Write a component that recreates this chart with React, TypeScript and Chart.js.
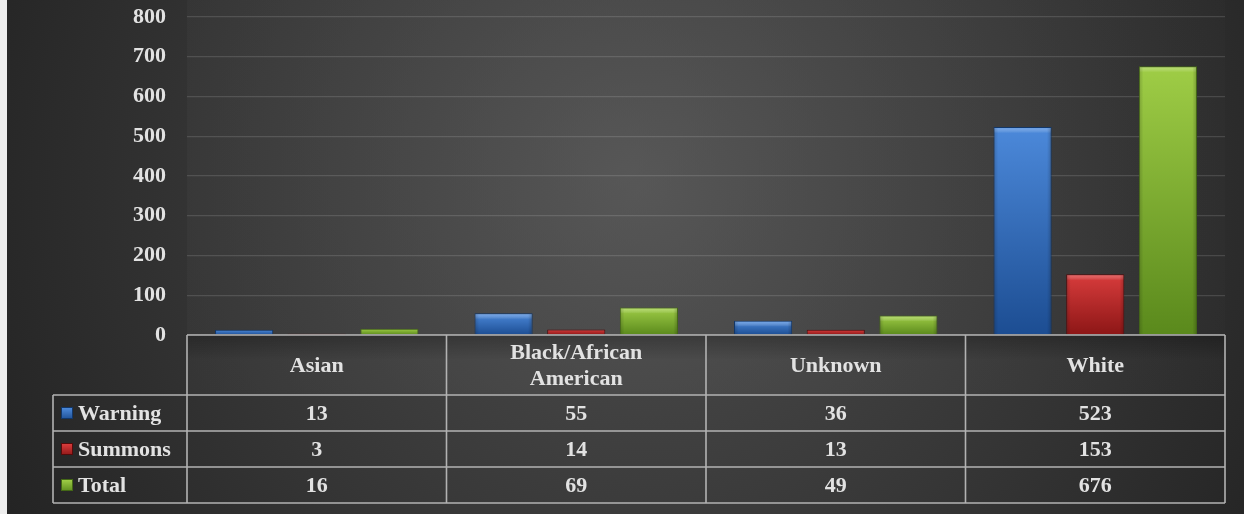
import React, { useEffect, useRef } from "react";
import { Chart, registerables } from "chart.js";

Chart.register(...registerables);

const categories = ["Asian", "Black/African American", "Unknown", "White"];
const headerLines = [["Asian"], ["Black/African", "American"], ["Unknown"], ["White"]];
const seriesNames = ["Warning", "Summons", "Total"];
const warning = [13, 55, 36, 523];
const summons = [3, 14, 13, 153];
const total = [16, 69, 49, 676];
const yMin = 0;
const yMax = 800;
const yStep = 100;

const FONT = '"Liberation Serif", "Times New Roman", serif';
const TEXT = "#e2e2e2";

const palette = [
  { top: "#4c89da", bottom: "#1c4d92", border: "#123769", hi: "rgba(140,185,245,0.55)" },
  { top: "#d83c3c", bottom: "#8c1616", border: "#560b0b", hi: "rgba(245,130,130,0.5)" },
  { top: "#9fcd46", bottom: "#5a891c", border: "#446816", hi: "rgba(200,235,140,0.5)" },
];

const W = 1237;
const H = 514;

const bgPlugin = {
  id: "bgPlugin",
  beforeDraw(chart: any) {
    const { ctx, chartArea: a } = chart;
    ctx.save();
    const g = ctx.createRadialGradient(640, 190, 0, 640, 190, 780);
    g.addColorStop(0, "#4e4e4e");
    g.addColorStop(0.55, "#353535");
    g.addColorStop(1, "#202020");
    ctx.fillStyle = g;
    ctx.fillRect(0, 0, W, H);
    const g2 = ctx.createRadialGradient(620, 170, 0, 620, 170, 720);
    g2.addColorStop(0, "rgba(95,95,95,0.55)");
    g2.addColorStop(1, "rgba(60,60,60,0.0)");
    ctx.fillStyle = g2;
    ctx.fillRect(a.left, 0, a.right - a.left, 395);
    ctx.restore();
  },
};

const bevelPlugin = {
  id: "bevelPlugin",
  afterDatasetsDraw(chart: any) {
    const { ctx } = chart;
    ctx.save();
    chart.data.datasets.forEach((ds: any, di: number) => {
      const meta = chart.getDatasetMeta(di);
      meta.data.forEach((bar: any) => {
        const { x, y, base, width } = bar.getProps(["x", "y", "base", "width"], true);
        const h = base - y;
        if (h < 6) return;
        const l = x - width / 2;
        const p = palette[di];
        const tg = ctx.createLinearGradient(0, y, 0, y + 6);
        tg.addColorStop(0, p.hi);
        tg.addColorStop(1, "rgba(255,255,255,0)");
        ctx.fillStyle = tg;
        ctx.fillRect(l + 1, y + 1, width - 2, 6);
        const sg = ctx.createLinearGradient(l, 0, l + width, 0);
        sg.addColorStop(0, "rgba(0,0,0,0.18)");
        sg.addColorStop(0.08, "rgba(0,0,0,0)");
        sg.addColorStop(0.92, "rgba(0,0,0,0)");
        sg.addColorStop(1, "rgba(0,0,0,0.22)");
        ctx.fillStyle = sg;
        ctx.fillRect(l + 1, y + 1, width - 2, h - 1);
      });
    });
    ctx.restore();
  },
};

const tablePlugin = {
  id: "tablePlugin",
  afterDraw(chart: any) {
    const { ctx, chartArea: a } = chart;
    const xs = chart.scales.x;
    const n = categories.length;
    const colW = (a.right - a.left) / n;
    const headTop = a.bottom;
    const rowTops = [395, 431, 467];
    const tableBottom = 503;
    const labelLeft = 46;
    ctx.save();

    const sh = ctx.createLinearGradient(0, headTop, 0, headTop + 25);
    sh.addColorStop(0, "rgba(0,0,0,0.25)");
    sh.addColorStop(1, "rgba(0,0,0,0)");
    ctx.fillStyle = sh;
    ctx.fillRect(a.left, headTop, a.right - a.left, 25);

    ctx.strokeStyle = "#b2b2b2";
    ctx.lineWidth = 1.6;
    ctx.beginPath();
    ctx.moveTo(a.left, headTop);
    ctx.lineTo(a.right, headTop);
    [...rowTops, tableBottom].forEach((yy) => {
      ctx.moveTo(labelLeft, yy);
      ctx.lineTo(a.right, yy);
    });
    ctx.moveTo(labelLeft, rowTops[0]);
    ctx.lineTo(labelLeft, tableBottom);
    for (let i = 0; i <= n; i++) {
      const bx = a.left + i * colW;
      ctx.moveTo(bx, headTop);
      ctx.lineTo(bx, tableBottom);
    }
    ctx.stroke();

    ctx.fillStyle = TEXT;
    ctx.font = `bold 22px ${FONT}`;
    ctx.textAlign = "center";
    ctx.textBaseline = "middle";
    const headMid = (headTop + rowTops[0]) / 2 + 1;
    headerLines.forEach((lines, i) => {
      const cx = xs.getPixelForValue(i);
      const lh = 26;
      const start = headMid - ((lines.length - 1) * lh) / 2;
      lines.forEach((t, j) => ctx.fillText(t, cx, start + j * lh));
    });

    const series = [warning, summons, total];
    series.forEach((vals, r) => {
      const top = rowTops[r];
      const bottom = r < rowTops.length - 1 ? rowTops[r + 1] : tableBottom;
      const mid = (top + bottom) / 2 + 1;
      ctx.textAlign = "center";
      ctx.fillStyle = TEXT;
      vals.forEach((v, i) => ctx.fillText(String(v), xs.getPixelForValue(i), mid));
      const p = palette[r];
      const kg = ctx.createLinearGradient(0, mid - 6, 0, mid + 6);
      kg.addColorStop(0, p.top);
      kg.addColorStop(1, p.bottom);
      ctx.fillStyle = kg;
      ctx.fillRect(54, mid - 7, 12, 12);
      ctx.strokeStyle = p.border;
      ctx.lineWidth = 1;
      ctx.strokeRect(54.5, mid - 6.5, 11, 11);
      ctx.fillStyle = TEXT;
      ctx.textAlign = "left";
      ctx.fillText(seriesNames[r], 71, mid);
    });
    ctx.restore();
  },
};

function barFill(di: number) {
  return (c: any) => {
    const p = palette[di];
    const chart = c.chart;
    const ys = chart.scales && chart.scales.y;
    if (!ys || c.parsed == null || c.type !== "data") return p.top;
    const top = ys.getPixelForValue(c.parsed.y);
    const base = ys.getPixelForValue(0);
    if (!isFinite(top) || !isFinite(base) || base - top < 1) return p.top;
    const g = chart.ctx.createLinearGradient(0, top, 0, base);
    g.addColorStop(0, p.top);
    g.addColorStop(1, p.bottom);
    return g;
  };
}

export default function App() {
  const ref = useRef<HTMLCanvasElement | null>(null);
  useEffect(() => {
    document.body.style.background = "#eeeeee";
    const canvas = ref.current!;
    const series = [warning, summons, total];
    const chart = new Chart(canvas, {
      type: "bar",
      data: {
        labels: categories,
        datasets: series.map((vals, i) => ({
          label: seriesNames[i],
          data: vals,
          backgroundColor: barFill(i),
          borderColor: palette[i].border,
          borderWidth: 1,
          categoryPercentage: 0.84,
          barPercentage: 0.8,
        })),
      },
      options: {
        animation: false,
        responsive: false,
        devicePixelRatio: 1,
        layout: { padding: { top: 17, right: 19, bottom: 179, left: 0 } },
        plugins: {
          legend: { display: false },
          tooltip: { enabled: false },
          title: { display: false },
        },
        scales: {
          x: { display: false },
          y: {
            min: yMin,
            max: yMax,
            ticks: {
              stepSize: yStep,
              color: TEXT,
              padding: 21,
              font: { family: FONT, size: 22, weight: "bold" },
            },
            grid: { color: "rgba(255,255,255,0.13)", lineWidth: 1.2, drawTicks: false },
            border: { display: false },
            afterFit: (s: any) => {
              s.width = 180;
              s.paddingTop = 0;
              s.paddingBottom = 0;
            },
          },
        },
      },
      plugins: [bgPlugin, bevelPlugin, tablePlugin],
    } as any);
    return () => chart.destroy();
  }, []);
  return (
    <div style={{ position: "absolute", left: 7, top: 0, width: W, height: H }}>
      <canvas ref={ref} width={W} height={H} style={{ display: "block", width: W, height: H }} />
    </div>
  );
}
